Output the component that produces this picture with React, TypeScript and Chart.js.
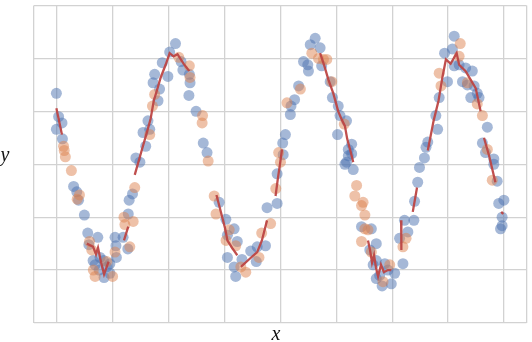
import { useEffect, useRef } from 'react';
import { Chart, registerables } from 'chart.js';

Chart.register(...registerables);

// Training points (blue)
const blueX = [
  0.00, 0.10, 0.25, 0.00, 0.27, 0.77, 0.91, 0.99, 1.25, 1.40, 1.85, 1.45, 1.64, 1.95, 2.11, 2.25, 2.39, 2.13, 2.39, 2.62, 2.66, 2.68, 2.98, 3.19, 1.73, 1.91,
  3.21, 3.25, 3.40, 3.55, 3.73, 3.87, 3.99, 4.09, 4.32, 4.39, 4.54, 4.73, 4.98, 5.06, 5.32, 5.57, 5.65, 5.94, 5.97, 5.92, 6.24, 6.56, 6.73, 4.17, 4.61,
  7.27, 7.57, 7.94, 7.64, 8.08, 7.64, 7.94, 8.01, 8.68, 8.97, 8.93, 9.34, 9.41, 9.86, 10.11, 10.23, 10.13, 9.86, 8.29,
  10.45, 10.48, 10.64, 10.82, 11.04, 11.23, 11.26, 11.34, 11.56, 11.78, 11.85, 12.23, 12.33, 12.59, 12.67, 12.56, 12.96, 13.04, 13.19, 12.96, 13.26, 12.89, 13.04, 13.19,
  13.63, 14.07, 14.29, 14.00, 14.29, 14.15, 14.67, 14.81, 14.44, 14.29, 15.11, 15.48, 14.96, 14.55, 15.55, 15.70, 15.33, 15.97, 16.00, 16.14, 16.22,
  16.44, 16.51, 16.59, 17.03, 16.95, 17.10, 17.34, 17.47, 17.69, 17.77, 17.77, 17.99, 18.28, 18.58, 18.14, 18.36, 18.66, 18.80, 18.51, 18.88, 19.25, 19.03, 19.17, 19.54, 19.54, 19.69, 19.76, 19.99, 19.91, 19.91, 19.84,
];
const blueY = [
  0.67, 0.45, 0.39, 0.33, 0.24, -0.21, -0.26, -0.34, -0.48, -0.65, -0.69, -0.76, -0.91, -0.88, -0.91, -0.97, -0.94, -1.07, -1.03, -0.69, -0.77, -0.88, -0.69, -0.80, -0.95, -1.00,
  -0.47, -0.34, -0.28, 0.06, 0.02, 0.30, 0.17, 0.41, 0.77, 0.85, 0.60, 0.96, 0.83, 1.06, 1.14, 0.97, 0.89, 0.85, 0.77, 0.65, 0.50, 0.20, 0.11, 0.33, 0.71,
  -0.36, -0.52, -0.61, -0.67, -0.73, -0.88, -0.97, -1.06, -0.82, -0.78, -0.92, -0.77, -0.41, -0.37, 0.20, 0.28, 0.09, -0.09, -0.90,
  0.47, 0.55, 0.61, 0.74, 0.97, 0.94, 0.88, 1.13, 1.19, 1.10, 0.93, 0.78, 0.63, 0.55, 0.46, 0.28, 0.41, 0.14, 0.10, 0.02, -0.05, 0.00, 0.08, 0.19,
  -0.59, -0.61, -0.75, -0.81, -0.91, -0.95, -0.94, -1.00, -1.05, -1.08, -1.03, -0.94, -1.13, -1.15, -0.53, -0.64, -0.70, -0.53, -0.35, -0.17, -0.03,
  0.06, 0.16, 0.21, 0.33, 0.46, 0.63, 1.05, 0.78, 1.09, 1.21, 0.93, 0.94, 0.91, 0.88, 0.78, 0.75, 0.74, 0.67, 0.63, 0.63, 0.35, 0.20, 0.11, 0.05, 0.00, -0.16, -0.37, -0.34, -0.50, -0.58, -0.61,
];

// Test points (orange)
const orangeX = [
  0.32, 0.35, 0.40, 0.67, 1.03, 0.93, 1.48, 1.58, 1.65, 1.73, 2.51, 2.62, 3.02, 3.06, 2.25, 3.43, 3.28,
  3.50, 4.17, 4.29, 4.39, 5.47, 5.94, 5.97, 6.53, 6.51, 6.78,
  7.05, 7.13, 7.72, 8.01, 8.46, 8.24, 9.05, 9.17, 9.57, 9.80, 9.93, 10.01, 7.58,
  10.30, 10.90, 11.41, 11.71, 11.93, 12.08, 12.30, 12.86,
  13.41, 13.33, 13.70, 13.63, 13.78, 13.78, 13.92, 13.63, 14.07, 14.59, 14.89, 15.62, 15.48,
  17.10, 17.18, 17.99, 18.04, 18.36, 18.80, 19.03, 19.25, 19.47,
];
const orangeY = [
  0.17, 0.13, 0.07, -0.06, -0.29, -0.33, -0.73, -0.81, -1.00, -1.06, -1.06, -0.83, -0.50, -0.57, -0.92, -0.54, -0.78,
  -0.22, 0.28, 0.55, 0.66, 1.01, 0.93, 0.82, 0.46, 0.39, 0.03,
  -0.30, -0.47, -0.62, -0.77, -1.02, -0.97, -0.88, -0.65, -0.56, -0.23, 0.11, 0.02, -0.72,
  0.58, 0.71, 1.05, 1.00, 0.99, 0.99, 0.78, 0.38,
  -0.20, -0.30, -0.36, -0.39, -0.48, -0.61, -0.62, -0.73, -0.83, -1.11, -0.95, -0.70, -0.78,
  0.86, 0.74, 1.02, 1.14, 0.77, 0.57, 0.46, 0.14, -0.15,
];

// Prediction line pieces (red)
const redSegX = [
  [0.00, 0.25],
  [1.36, 1.64, 1.77, 1.86, 2.00, 2.13, 2.33],
  [3.02, 3.21],
  [3.50, 3.81, 4.08, 4.21, 4.35, 4.48, 4.66, 4.88, 5.06, 5.23, 5.41, 5.68, 5.94],
  [7.15, 7.36, 7.54, 7.64, 7.85, 8.08],
  [8.24, 8.60, 8.97, 9.18, 9.41],
  [9.79, 9.89, 9.98, 10.08],
  [11.78, 11.97, 12.15, 12.37, 12.59, 12.73, 12.89, 12.99, 13.13, 13.26],
  [13.92, 14.01, 14.10, 14.19, 14.28, 14.37, 14.50, 14.63, 14.81, 14.96],
  [15.40, 15.41],
  [15.92, 16.11],
  [16.59, 16.85, 17.07, 17.25, 17.40, 17.61, 17.88, 17.99, 18.28, 18.73, 18.95],
  [19.10, 19.33, 19.61],
  [19.87, 19.96],
];
const redSegY = [
  [0.53, 0.28],
  [-0.75, -0.78, -0.85, -0.79, -0.93, -1.04, -0.92],
  [-0.72, -0.59],
  [-0.10, 0.13, 0.33, 0.43, 0.60, 0.69, 0.82, 0.94, 1.05, 1.02, 1.04, 0.95, 0.88],
  [-0.29, -0.46, -0.61, -0.72, -0.79, -0.86],
  [-0.97, -0.90, -0.83, -0.72, -0.53],
  [-0.30, -0.14, -0.01, 0.14],
  [1.05, 0.93, 0.80, 0.67, 0.50, 0.43, 0.36, 0.24, 0.13, 0.02],
  [-0.72, -0.81, -0.93, -0.86, -0.98, -1.06, -0.95, -1.02, -1.00, -1.00],
  [-0.53, -0.81],
  [-0.45, -0.22],
  [0.13, 0.41, 0.60, 0.83, 0.99, 0.95, 1.05, 0.94, 0.88, 0.72, 0.50],
  [0.25, 0.08, -0.17],
  [-0.45, -0.47],
];

const xTicks = [-1, 0, 2.5, 5, 7.5, 10, 12.5, 15, 17.5, 20, 21];
const yTicks = [-1.5, -1, -0.5, 0, 0.5, 1, 1.5];
const xLabel = 'x';
const yLabel = 'y';

export default function App() {
  const ref = useRef<HTMLCanvasElement>(null);

  useEffect(() => {
    if (!ref.current) return;
    const blue = blueX.map((x, i) => ({ x, y: blueY[i] }));
    const orange = orangeX.map((x, i) => ({ x, y: orangeY[i] }));
    const red: { x: number; y: number | null }[] = [];
    redSegX.forEach((seg, s) => {
      if (s > 0) red.push({ x: seg[0], y: null });
      seg.forEach((x, i) => red.push({ x, y: redSegY[s][i] }));
    });

    const labelsPlugin = {
      id: 'axisLabels',
      afterDraw(chart: any) {
        const ctx = chart.ctx;
        ctx.save();
        ctx.fillStyle = '#111';
        ctx.font = 'italic 20px "Liberation Serif"';
        ctx.textAlign = 'center';
        ctx.textBaseline = 'alphabetic';
        ctx.fillText(yLabel, 5, 161);
        ctx.fillText(xLabel, 276, 340);
        ctx.restore();
      },
    };

    const gridColor = '#d2d2d2';
    const chart = new Chart(ref.current, {
      type: 'scatter',
      data: {
        datasets: [
          {
            label: 'prediction',
            data: red as any,
            showLine: true,
            spanGaps: false,
            borderColor: 'rgba(189,70,68,0.95)',
            borderWidth: 2.3,
            pointRadius: 0,
            fill: false,
            order: 0,
          },
          {
            label: 'test',
            data: orange,
            backgroundColor: 'rgba(221,132,82,0.5)',
            borderWidth: 0,
            pointRadius: 5.5,
            order: 1,
          },
          {
            label: 'train',
            data: blue,
            backgroundColor: 'rgba(76,114,176,0.5)',
            borderWidth: 0,
            pointRadius: 5.5,
            order: 2,
          },
        ],
      },
      options: {
        responsive: false,
        animation: false,
        layout: { padding: { left: 34, top: 4, right: 3, bottom: 19 } },
        plugins: { legend: { display: false }, tooltip: { enabled: false } },
        scales: {
          x: {
            type: 'linear',
            min: -1,
            max: 21,
            afterBuildTicks: (s: any) => {
              s.ticks = xTicks.map((v) => ({ value: v }));
            },
            ticks: { display: false },
            grid: { color: gridColor, lineWidth: 1.3, drawTicks: false },
            border: { display: false },
          },
          y: {
            type: 'linear',
            min: -1.5,
            max: 1.5,
            afterBuildTicks: (s: any) => {
              s.ticks = yTicks.map((v) => ({ value: v }));
            },
            ticks: { display: false },
            grid: { color: gridColor, lineWidth: 1.3, drawTicks: false },
            border: { display: false },
          },
        },
      },
      plugins: [labelsPlugin],
    });
    return () => chart.destroy();
  }, []);

  return (
    <div style={{ position: 'fixed', left: 0, top: 0, width: 532, height: 342, background: '#fff' }}>
      <canvas ref={ref} width={532} height={342} style={{ display: 'block' }} />
    </div>
  );
}
